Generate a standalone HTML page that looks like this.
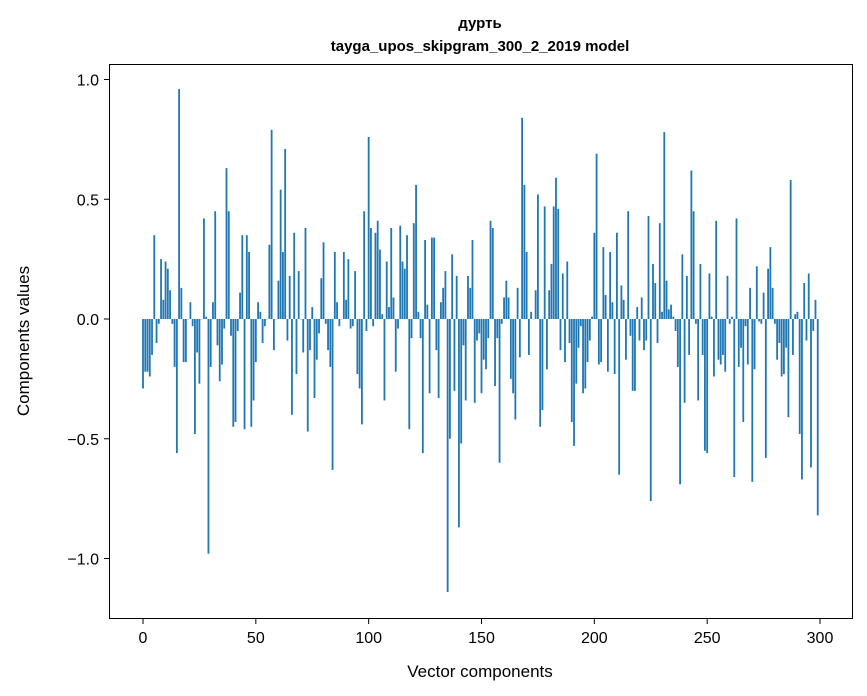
<!DOCTYPE html>
<html><head><meta charset="utf-8"><style>
body{margin:0;background:#fff;}
svg{display:block;font-family:"Liberation Sans","DejaVu Sans",sans-serif;}
</style></head><body>
<svg id="chart" width="867" height="696" viewBox="0 0 867 696" xmlns="http://www.w3.org/2000/svg">
<rect width="867" height="696" fill="#fff"/>
<text x="480" y="28" text-anchor="middle" font-size="15" font-weight="bold">дурть</text>
<text x="480" y="51" text-anchor="middle" font-size="15" font-weight="bold">tayga_upos_skipgram_300_2_2019 model</text>
<g id="bars"></g>
<g id="axes"></g>
<rect x="109.5" y="64.5" width="743" height="554" fill="none" stroke="#000" stroke-width="1"/>
<text x="480" y="677" text-anchor="middle" font-size="17">Vector components</text>
<text transform="translate(29,341) rotate(-90)" text-anchor="middle" font-size="17">Components values</text>
</svg>
<script>
const values = [-0.29,-0.22,-0.22,-0.24,-0.15,0.35,-0.1,-0.02,0.25,0.08,
0.24,0.21,0.12,-0.02,-0.2,-0.56,0.96,0.13,-0.18,-0.18,
0.0,0.07,-0.03,-0.48,-0.14,-0.27,0.0,0.42,0.01,-0.98,
-0.2,0.07,0.45,-0.11,-0.26,-0.19,-0.04,0.63,0.45,-0.07,
-0.45,-0.43,-0.05,0.11,0.35,-0.46,0.35,0.28,-0.45,-0.34,
-0.18,0.07,0.03,-0.1,-0.03,0.0,0.31,0.79,-0.13,0.0,
0.16,0.54,0.28,0.71,-0.09,0.18,-0.4,0.36,-0.23,0.2,
0.0,-0.14,0.38,-0.47,-0.13,0.05,-0.33,-0.17,-0.06,0.17,
0.32,-0.02,-0.13,-0.2,-0.63,0.28,0.07,-0.03,0.0,0.28,
0.08,0.25,-0.04,-0.03,0.2,-0.23,-0.29,-0.44,0.45,-0.05,
0.76,0.38,-0.03,0.36,0.41,0.29,0.02,-0.34,0.24,0.05,
0.38,0.09,-0.22,-0.04,0.39,0.24,0.21,0.35,-0.46,-0.08,
0.4,0.56,0.03,-0.08,-0.56,0.33,0.06,-0.31,0.34,0.34,
-0.13,-0.33,0.07,0.13,0.2,-1.14,-0.5,0.27,-0.3,0.18,
-0.87,-0.52,-0.11,-0.34,0.18,0.13,0.33,-0.35,-0.09,-0.06,
-0.31,-0.17,-0.21,-0.08,0.41,0.38,-0.28,-0.08,-0.6,-0.02,
0.09,0.16,0.09,-0.25,-0.31,-0.42,0.13,-0.16,0.84,0.56,
0.28,-0.15,0.03,0.0,0.12,0.52,-0.45,-0.38,0.47,-0.21,
0.12,0.23,0.47,0.59,0.46,-0.13,0.19,-0.18,0.24,-0.1,
-0.43,-0.53,-0.27,-0.12,-0.03,-0.31,-0.29,-0.18,-0.09,0.01,
0.36,0.69,-0.19,-0.18,0.3,0.1,-0.22,0.28,0.07,-0.23,
0.36,-0.65,0.14,0.08,-0.17,0.45,-0.07,-0.3,-0.3,0.05,
-0.09,0.09,-0.13,-0.09,0.43,-0.76,0.23,0.15,-0.1,0.4,
0.03,0.78,0.16,0.04,0.06,0.01,-0.05,-0.2,-0.69,0.27,
-0.35,0.18,-0.15,0.62,0.45,-0.02,-0.34,0.23,-0.15,-0.55,
-0.56,0.19,0.01,-0.24,0.41,-0.17,-0.19,-0.15,-0.22,0.18,
-0.02,0.01,-0.66,0.42,-0.2,-0.12,-0.43,-0.03,-0.19,0.13,
-0.68,-0.21,0.22,-0.01,-0.02,0.11,-0.58,0.21,0.3,0.13,
-0.02,-0.17,-0.1,-0.24,-0.23,-0.12,-0.41,0.58,-0.15,0.02,
0.03,-0.48,-0.67,0.15,-0.09,0.19,-0.62,-0.05,0.08,-0.82];
const xTicks = [0,50,100,150,200,250,300];
const yTicks = [-1.0,-0.5,0.0,0.5,1.0];
const yTickLabels = ["\u22121.0","\u22120.5","0.0","0.5","1.0"];

const NS = "http://www.w3.org/2000/svg";
function xs(i){ return 143 + i*(677/300); }
function ys(v){ return 319 - v*239.5; }
const bw = 0.8*(677/300);
const gb = document.getElementById('bars');
values.forEach((v,i)=>{
  const r = document.createElementNS(NS,'rect');
  const y0 = ys(0), y1 = ys(v);
  r.setAttribute('x', xs(i)-bw/2);
  r.setAttribute('y', Math.min(y0,y1));
  r.setAttribute('width', bw);
  r.setAttribute('height', Math.max(0.3, Math.abs(y1-y0)));
  r.setAttribute('fill', '#1f77b4');
  
  
  gb.appendChild(r);
});
const ga = document.getElementById('axes');
xTicks.forEach(t=>{
  const x = xs(t);
  const l = document.createElementNS(NS,'line');
  l.setAttribute('x1',x); l.setAttribute('x2',x); l.setAttribute('y1',618.5); l.setAttribute('y2',624);
  l.setAttribute('stroke','#000');
  
  
  ga.appendChild(l);
  const tx = document.createElementNS(NS,'text');
  tx.setAttribute('x',x); tx.setAttribute('y',643); tx.setAttribute('text-anchor','middle'); tx.setAttribute('font-size','16');
  tx.textContent = t;
  
  
  ga.appendChild(tx);
});
yTicks.forEach((t,k)=>{
  const y = ys(t);
  const l = document.createElementNS(NS,'line');
  l.setAttribute('x1',104); l.setAttribute('x2',109.5); l.setAttribute('y1',y); l.setAttribute('y2',y);
  l.setAttribute('stroke','#000');
  
  
  ga.appendChild(l);
  const tx = document.createElementNS(NS,'text');
  tx.setAttribute('x',99); tx.setAttribute('y',y+6); tx.setAttribute('text-anchor','end'); tx.setAttribute('font-size','16');
  tx.textContent = yTickLabels[k];
  
  
  ga.appendChild(tx);
});
</script>
</body></html>
